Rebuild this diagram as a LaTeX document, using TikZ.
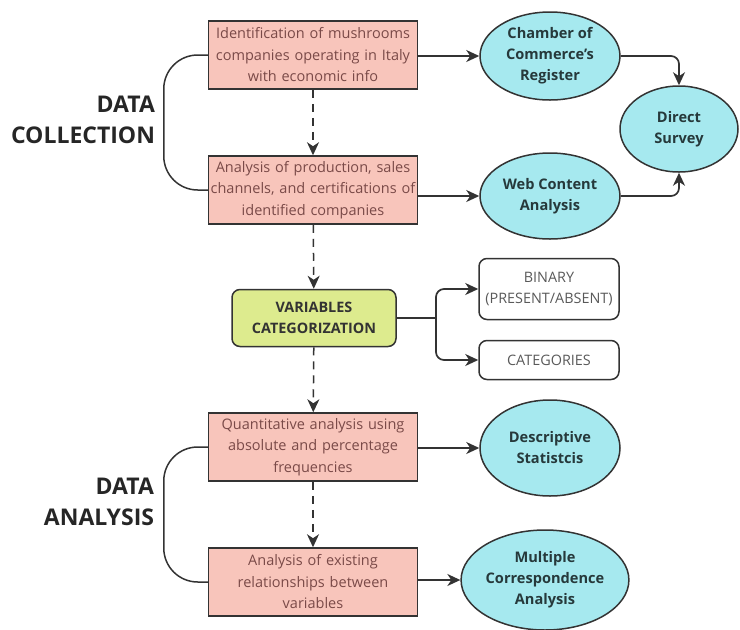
\documentclass[tikz,border=0pt]{standalone}
\usepackage{fontspec}
\setmainfont{Open Sans}
\usepackage{tikz}
\usetikzlibrary{
    shapes
  , arrows.meta
  , calc
  , positioning
}
\definecolor{boxpink}{HTML}{F8C5BB}
\definecolor{boxtext}{HTML}{7A4A48}
\definecolor{ovalcyan}{HTML}{A6E9EF}
\definecolor{ovaltext}{HTML}{26393B}
\definecolor{catgreen}{HTML}{DDEB8E}
\definecolor{linegrey}{HTML}{333333}

\tikzset{
  stepbox/.style={draw=linegrey, line width=1.5pt, fill=boxpink, rectangle, minimum width=209pt, minimum height=68pt, text width=205pt, inner sep=2pt, align=center, text=boxtext, font=\fontsize{14.5}{21.5}\selectfont},
  source/.style={draw=linegrey, line width=1.5pt, fill=ovalcyan, ellipse, inner sep=0pt, align=center, text=ovaltext, font=\fontsize{14.6}{21}\selectfont\bfseries},
  kind/.style={draw=linegrey, line width=1.5pt, rectangle, rounded corners=8pt, minimum width=140pt, align=center, text=black!65, font=\fontsize{14.4}{21}\selectfont},
  phase/.style={align=right, text=black!85, font=\fontsize{23}{30.5}\selectfont\bfseries},
  flow/.style={-{Stealth[length=13pt,width=12pt,inset=4pt]}, line width=1.7pt, draw=linegrey},
  next/.style={flow, dashed, dash pattern=on 8pt off 6pt, line width=1.5pt}
}

\begin{document}
\begin{tikzpicture}[x=1pt, y=-1pt]
  \useasboundingbox (0,0) rectangle (740,630);
  % Data collection
  \node[stepbox] (ident) at (313,55) {Identification of mushrooms\\companies operating in Italy\\with economic info};
  \node[stepbox] (prod) at (313,190) {Analysis of production, sales\\channels, and certifications of\\identified companies};
  \node[source, minimum width=140pt, minimum height=88pt] (chamber) at (550,56) {Chamber of\\Commerce's\\Register};
  \node[source, minimum width=140pt, minimum height=86pt] (web) at (550,196) {Web Content\\Analysis};
  \node[source, minimum width=118pt, minimum height=86pt] (survey) at (679,129) {Direct\\Survey};
  \node[phase] (collect) at (83,120) {DATA\\COLLECTION};
  % Categorization
  \node[kind, fill=catgreen, minimum width=164pt, minimum height=57pt, text=black!80, font=\fontsize{14.4}{21}\selectfont\bfseries] (vars) at (314,318) {VARIABLES\\CATEGORIZATION};
  \node[kind, minimum height=61pt] (binary) at (549,289) {BINARY\\(PRESENT/ABSENT)};
  \node[kind, minimum height=39pt] (cats) at (549,360) {CATEGORIES};
  % Data analysis
  \node[stepbox] (quant) at (313,447) {Quantitative analysis using\\absolute and percentage\\frequencies};
  \node[stepbox] (rel) at (313,582) {Analysis of existing\\relationships between\\variables};
  \node[source, minimum width=140pt, minimum height=96pt] (desc) at (550,448) {Descriptive\\Statistcis};
  \node[source, minimum width=167pt, minimum height=100pt] (mca) at (545,580) {Multiple\\Correspondence\\Analysis};
  \node[phase] (analysis) at (99,502) {DATA\\ANALYSIS};
  % Braces
  \draw[line width=1.5pt, draw=linegrey, rounded corners=34pt] (ident.west) -- ++(-44,0) |- (prod.west);
  \draw[line width=1.5pt, draw=linegrey, rounded corners=34pt] (quant.west) -- ++(-44,0) |- (rel.west);
  % Solid arrows
  \draw[flow] (ident.east |- chamber.west) -- (chamber.west);
  \draw[flow] (prod.east |- web.west) -- (web.west);
  \draw[flow, rounded corners=8pt] (chamber.east) -| (survey.north);
  \draw[flow, rounded corners=8pt] (web.east) -| (survey.south);
  \draw[flow] (quant.east |- desc.west) -- (desc.west);
  \draw[flow] (rel.east |- mca.west) -- (mca.west);
  \coordinate (split) at (436,318);
  \draw[line width=1.7pt, draw=linegrey] (vars.east) -- (split);
  \draw[flow, rounded corners=8pt] (split) |- (binary.west);
  \draw[flow, rounded corners=8pt] (split) |- (cats.west);
  % Dashed arrows
  \draw[next] (ident) -- (prod);
  \draw[next] (prod) -- (vars);
  \draw[next] (vars) -- (quant);
  \draw[next] (quant) -- (rel);
\end{tikzpicture}
\end{document}
